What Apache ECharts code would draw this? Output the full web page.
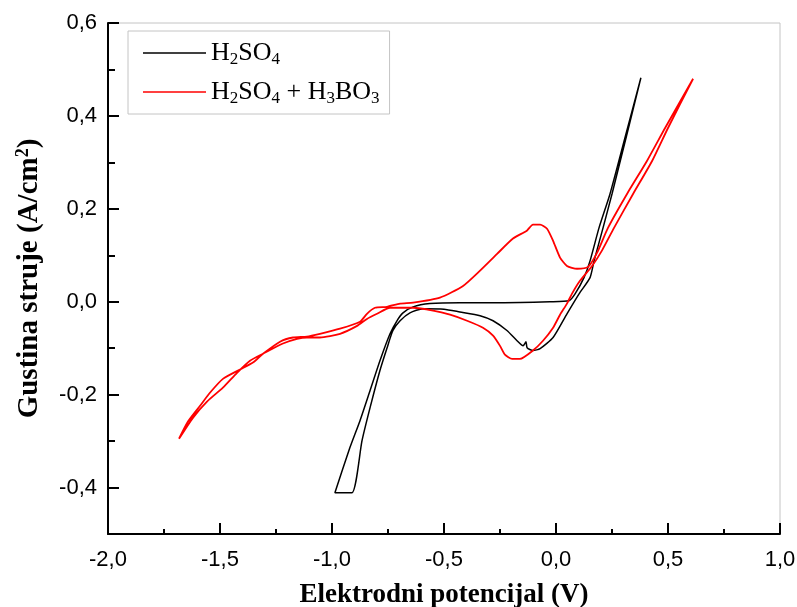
<!DOCTYPE html>
<html>
<head>
<meta charset="utf-8">
<script src="https://cdn.jsdelivr.net/npm/echarts@6/dist/echarts.min.js"></script>
<style>
html,body{margin:0;padding:0;background:#fff;}
#chart{width:797px;height:607px;}
</style>
</head>
<body>
<div id="chart"></div>
<script>
// Elektrodni potencijal (V) / Gustina struje (A/cm2)
const h2so4Potential = [0.379, 0.310, 0.241, 0.192, 0.152, 0.125, 0.085, 0.058, -0.027, -0.250, -0.429, -0.563, -0.638, -0.683, -0.710, -0.741, -0.786, -0.830, -0.875, -0.920, -0.987, -0.911, -0.866, -0.830, -0.786, -0.754, -0.728, -0.696, -0.652, -0.594, -0.500, -0.429, -0.339, -0.281, -0.219, -0.174, -0.147, -0.134, -0.129, -0.103, -0.071, -0.013, 0.049, 0.103, 0.152, 0.170, 0.210, 0.250, 0.315, 0.379];
const h2so4Current = [0.482, 0.357, 0.232, 0.159, 0.088, 0.052, 0.017, 0.002, 0.000, -0.002, -0.002, -0.004, -0.011, -0.024, -0.041, -0.069, -0.127, -0.191, -0.256, -0.314, -0.411, -0.411, -0.299, -0.228, -0.148, -0.099, -0.062, -0.041, -0.024, -0.015, -0.016, -0.022, -0.030, -0.041, -0.062, -0.084, -0.095, -0.086, -0.099, -0.105, -0.101, -0.077, -0.026, 0.017, 0.052, 0.088, 0.159, 0.232, 0.357, 0.482];

const boricPotential = [0.612, 0.500, 0.429, 0.344, 0.259, 0.205, 0.161, 0.107, 0.071, 0.049, 0.018, -0.013, -0.058, -0.103, -0.161, -0.196, -0.228, -0.250, -0.281, -0.326, -0.397, -0.473, -0.549, -0.638, -0.696, -0.741, -0.799, -0.844, -0.888, -0.964, -1.054, -1.112, -1.156, -1.219, -1.308, -1.366, -1.424, -1.487, -1.558, -1.621, -1.683,
  -1.643, -1.589, -1.545, -1.487, -1.411, -1.353, -1.308, -1.232, -1.174, -1.112, -1.054, -0.964, -0.875, -0.844, -0.808, -0.755, -0.696, -0.638, -0.518, -0.415, -0.339, -0.263, -0.192, -0.130, -0.103, -0.071, -0.040, -0.013, 0.018, 0.049, 0.094, 0.143, 0.183, 0.232, 0.317, 0.406, 0.487, 0.612];
const boricCurrent = [0.480, 0.374, 0.303, 0.232, 0.159, 0.110, 0.077, 0.045, 0.017, -0.004, -0.028, -0.056, -0.084, -0.105, -0.123, -0.123, -0.114, -0.095, -0.073, -0.056, -0.041, -0.028, -0.019, -0.013, -0.013, -0.013, -0.026, -0.037, -0.052, -0.069, -0.077, -0.077, -0.080, -0.090, -0.112, -0.127, -0.153, -0.185, -0.215, -0.250, -0.295,
  -0.258, -0.224, -0.196, -0.166, -0.146, -0.131, -0.112, -0.086, -0.077, -0.075, -0.069, -0.058, -0.043, -0.026, -0.013, -0.011, -0.004, -0.002, 0.009, 0.034, 0.067, 0.103, 0.136, 0.153, 0.166, 0.166, 0.157, 0.131, 0.095, 0.077, 0.071, 0.075, 0.105, 0.159, 0.232, 0.303, 0.374, 0.480];

const yMajorTicks = [-0.4, -0.2, 0, 0.2, 0.4, 0.6];
const yMinorTicks = [-0.3, -0.1, 0.1, 0.3, 0.5];

const seriesNames = ['H2SO4', 'H2SO4 + H3BO3'];
const legendRich = {
  'H2SO4': '{n|H}{s|2}{n|SO}{s|4}',
  'H2SO4 + H3BO3': '{n|H}{s|2}{n|SO}{s|4}{n| + H}{s|3}{n|BO}{s|3}'
};

function pairs(xs, ys) { return xs.map((x, i) => [x, ys[i]]); }
const fmt = v => v.toFixed(1).replace('.', ',');

const chart = echarts.init(document.getElementById('chart'), null, {renderer: 'canvas'});
const serif = 'Liberation Serif, Times New Roman, serif';
const sans = 'Liberation Sans, Arial, sans-serif';

chart.setOption({
  backgroundColor: '#ffffff',
  animation: false,
  grid: {left: 108, top: 23, width: 672, height: 511, outerBoundsMode: 'none', containLabel: false, show: true, borderColor: '#c4c4c4', borderWidth: 1, backgroundColor: 'transparent'},
  legend: {
    left: 128, top: 31, orient: 'vertical',
    icon: 'rect', itemWidth: 63, itemHeight: 1.6, itemGap: 11,
    padding: [9, 10, 7, 15],
    borderColor: '#c4c4c4', borderWidth: 1,
    data: seriesNames,
    formatter: name => legendRich[name],
    textStyle: {
      color: '#000', fontFamily: serif, fontSize: 26,
      rich: {
        n: {fontFamily: serif, fontSize: 26, color: '#000', lineHeight: 30},
        s: {fontFamily: serif, fontSize: 17, color: '#000', lineHeight: 4, verticalAlign: 'bottom'}
      }
    }
  },
  xAxis: {
    type: 'value', min: -2, max: 1, interval: 0.5,
    name: 'Elektrodni potencijal (V)', nameLocation: 'middle', nameGap: 48,
    nameTextStyle: {fontFamily: serif, fontWeight: 'bold', fontSize: 27, color: '#000'},
    axisLine: {show: true, onZero: false, lineStyle: {color: '#000', width: 2}},
    axisTick: {show: true, inside: true, length: 11, lineStyle: {color: '#000', width: 2}},
    minorTick: {show: true, splitNumber: 2, length: 5, lineStyle: {color: '#000', width: 2}},
    splitLine: {show: false},
    axisLabel: {formatter: fmt, fontFamily: sans, fontSize: 22, color: '#000', margin: 15}
  },
  yAxis: [{
    type: 'value', min: -0.5, max: 0.6,
    name: '{t|Gustina struje (A/cm}{p|2}{t|)}', nameLocation: 'middle', nameGap: 62, nameRotate: 90,
    nameTextStyle: {
      fontFamily: serif, fontWeight: 'bold', fontSize: 29, color: '#000',
      rich: {
        t: {fontFamily: serif, fontWeight: 'bold', fontSize: 29, color: '#000', lineHeight: 32},
        p: {fontFamily: serif, fontWeight: 'bold', fontSize: 18, color: '#000', lineHeight: 4, verticalAlign: 'top'}
      }
    },
    axisLine: {show: true, onZero: false, lineStyle: {color: '#000', width: 2}},
    axisTick: {show: true, inside: true, length: 11, customValues: yMajorTicks, lineStyle: {color: '#000', width: 2}},
    splitLine: {show: false},
    axisLabel: {customValues: yMajorTicks, formatter: fmt, fontFamily: sans, fontSize: 22, color: '#000', margin: 11}
  }, {
    type: 'value', min: -0.5, max: 0.6, position: 'left',
    axisLine: {show: false, onZero: false},
    axisTick: {show: true, inside: true, length: 7, customValues: yMinorTicks, lineStyle: {color: '#000', width: 2}},
    axisLabel: {show: false},
    splitLine: {show: false}
  }],
  series: [{
    name: seriesNames[0], type: 'line', data: pairs(h2so4Potential, h2so4Current),
    symbol: 'none', smooth: 0.2, lineStyle: {color: '#000', width: 1.5}, itemStyle: {color: '#000'}
  }, {
    name: seriesNames[1], type: 'line', data: pairs(boricPotential, boricCurrent),
    symbol: 'none', smooth: 0.2, lineStyle: {color: '#ff0000', width: 1.8}, itemStyle: {color: '#ff0000'}
  }]
});
</script>
</body>
</html>
